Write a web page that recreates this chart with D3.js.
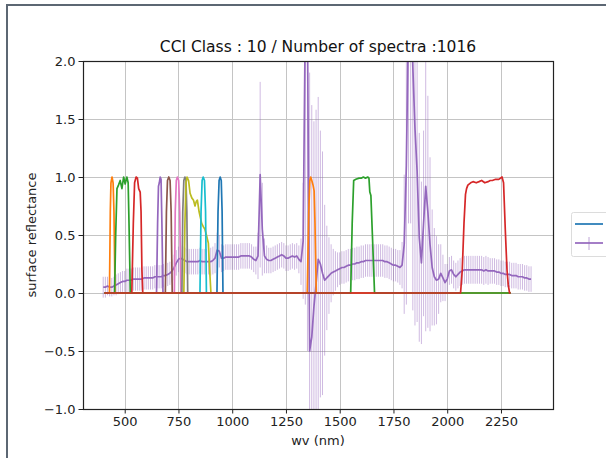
<!DOCTYPE html>
<html>
<head>
<meta charset="utf-8">
<script src="https://cdn.jsdelivr.net/npm/d3@7"></script>
<style>
	body { margin: 0; background: #fff; }
	svg { display: block; font-family: 'DejaVu Sans', sans-serif; }
</style>
</head>
<body>
<svg width="606" height="458"></svg>
<script>
const title = 'CCI Class : 10 / Number of spectra :1016';
const xLabel = 'wv (nm)';
const yLabel = 'surface reflectance';
const xTicks = [500, 750, 1000, 1250, 1500, 1750, 2000, 2250];
const yTicks = [-1.0, -0.5, 0.0, 0.5, 1.0, 1.5, 2.0];

//mean spectrum of the class, one value every 10 nm (rows of 100 nm)
const wavelengths = [
	400, 410, 420, 430, 440, 450, 460, 470, 480, 490,
	500, 510, 520, 530, 540, 550, 560, 570, 580, 590,
	600, 610, 620, 630, 640, 650, 660, 670, 680, 690,
	700, 710, 720, 730, 740, 750, 760, 770, 780, 790,
	800, 810, 820, 830, 840, 850, 860, 870, 880, 890,
	900, 910, 920, 930, 940, 950, 960, 970, 980, 990,
	1000, 1010, 1020, 1030, 1040, 1050, 1060, 1070, 1080, 1090,
	1100, 1110, 1120, 1130, 1140, 1150, 1160, 1170, 1180, 1190,
	1200, 1210, 1220, 1230, 1240, 1250, 1260, 1270, 1280, 1290,
	1300, 1310, 1320, 1330, 1340, 1350, 1360, 1370, 1380, 1390,
	1400, 1410, 1420, 1430, 1440, 1450, 1460, 1470, 1480, 1490,
	1500, 1510, 1520, 1530, 1540, 1550, 1560, 1570, 1580, 1590,
	1600, 1610, 1620, 1630, 1640, 1650, 1660, 1670, 1680, 1690,
	1700, 1710, 1720, 1730, 1740, 1750, 1760, 1770, 1780, 1790,
	1800, 1810, 1820, 1830, 1840, 1850, 1860, 1870, 1880, 1890,
	1900, 1910, 1920, 1930, 1940, 1950, 1960, 1970, 1980, 1990,
	2000, 2010, 2020, 2030, 2040, 2050, 2060, 2070, 2080, 2090,
	2100, 2110, 2120, 2130, 2140, 2150, 2160, 2170, 2180, 2190,
	2200, 2210, 2220, 2230, 2240, 2250, 2260, 2270, 2280, 2290,
	2300, 2310, 2320, 2330, 2340, 2350, 2360, 2370, 2380, 2390
];

const meanRefl = [
	0.05, 0.05, 0.06, 0.05, 0.05, 0.06, 0.07, 0.08, 0.09, 0.10,
	0.10, 0.11, 0.11, 0.11, 0.12, 0.12, 0.12, 0.12, 0.12, 0.13,
	0.13, 0.13, 0.13, 0.13, 0.14, 0.14, 0.14, 0.14, 0.15, 0.15,
	0.16, 0.17, 0.19, 0.22, 0.26, 0.29, 0.30, 0.29, 0.28, 0.27,
	0.27, 0.27, 0.27, 0.27, 0.27, 0.28, 0.27, 0.27, 0.27, 0.27,
	0.27, 0.28, 0.30, 0.37, 0.36, 0.30, 0.30, 0.31, 0.31, 0.31,
	0.31, 0.31, 0.31, 0.31, 0.32, 0.32, 0.32, 0.32, 0.32, 0.31,
	0.29, 0.28, 0.32, 1.02, 0.55, 0.32, 0.29, 0.28, 0.28, 0.29,
	0.30, 0.31, 0.32, 0.33, 0.32, 0.30, 0.30, 0.31, 0.32, 0.31,
	0.32, 0.29, 0.27, 0.45, 2.40, 2.30, -0.50, -0.38, -0.12, 0.08,
	0.29, 0.25, 0.17, 0.11, 0.13, 0.15, 0.17, 0.18, 0.19, 0.20,
	0.21, 0.22, 0.22, 0.23, 0.24, 0.24, 0.25, 0.25, 0.26, 0.26,
	0.27, 0.27, 0.28, 0.28, 0.28, 0.28, 0.28, 0.28, 0.28, 0.28,
	0.28, 0.27, 0.27, 0.26, 0.25, 0.24, 0.24, 0.23, 0.22, 0.24,
	0.42, 1.10, 2.40, 2.80, 1.95, 1.42, 1.05, 0.48, 0.26, 0.60,
	0.92, 0.70, 0.42, 0.22, 0.14, 0.11, 0.12, 0.17, 0.13, 0.09,
	0.12, 0.19, 0.20, 0.16, 0.14, 0.16, 0.18, 0.19, 0.20, 0.20,
	0.20, 0.20, 0.20, 0.20, 0.20, 0.20, 0.20, 0.19, 0.20, 0.19,
	0.19, 0.19, 0.19, 0.18, 0.18, 0.17, 0.17, 0.16, 0.16, 0.16,
	0.15, 0.15, 0.15, 0.14, 0.14, 0.14, 0.13, 0.13, 0.12, 0.12
];

//standard deviation, used as error bar
const stdRefl = [
	0.09, 0.09, 0.08, 0.08, 0.08, 0.08, 0.09, 0.09, 0.09, 0.09,
	0.09, 0.10, 0.10, 0.10, 0.10, 0.10, 0.10, 0.10, 0.10, 0.10,
	0.10, 0.10, 0.10, 0.10, 0.10, 0.10, 0.10, 0.10, 0.10, 0.10,
	0.10, 0.10, 0.10, 0.11, 0.11, 0.11, 0.11, 0.11, 0.11, 0.11,
	0.11, 0.11, 0.11, 0.11, 0.11, 0.11, 0.11, 0.11, 0.11, 0.11,
	0.12, 0.12, 0.13, 0.15, 0.14, 0.12, 0.11, 0.11, 0.11, 0.11,
	0.11, 0.11, 0.11, 0.11, 0.11, 0.11, 0.11, 0.11, 0.11, 0.11,
	0.11, 0.12, 0.20, 0.80, 0.40, 0.15, 0.12, 0.11, 0.11, 0.11,
	0.11, 0.11, 0.11, 0.11, 0.11, 0.11, 0.11, 0.11, 0.11, 0.11,
	0.11, 0.12, 0.20, 0.50, 2.50, 2.80, 2.40, 2.00, 1.60, 1.50,
	1.40, 1.15, 1.05, 0.65, 0.45, 0.33, 0.25, 0.20, 0.17, 0.15,
	0.14, 0.14, 0.14, 0.14, 0.14, 0.14, 0.14, 0.14, 0.14, 0.14,
	0.14, 0.14, 0.14, 0.14, 0.14, 0.14, 0.14, 0.14, 0.14, 0.14,
	0.14, 0.14, 0.14, 0.14, 0.14, 0.14, 0.14, 0.14, 0.15, 0.20,
	0.60, 1.20, 1.80, 2.20, 2.10, 1.70, 1.30, 0.90, 0.70, 0.80,
	1.25, 1.00, 0.75, 0.50, 0.42, 0.38, 0.30, 0.25, 0.20, 0.16,
	0.13, 0.12, 0.12, 0.12, 0.12, 0.12, 0.12, 0.12, 0.12, 0.12,
	0.12, 0.12, 0.12, 0.12, 0.12, 0.12, 0.12, 0.12, 0.12, 0.12,
	0.11, 0.11, 0.11, 0.11, 0.11, 0.11, 0.11, 0.11, 0.11, 0.11,
	0.11, 0.11, 0.11, 0.11, 0.11, 0.11, 0.11, 0.11, 0.11, 0.11
];

//band responses as [wv, value], zero everywhere else in srfRange
const srfRange = [405, 2295];
const srfB01 = [[429, 0], [433, 0.7], [436, 0.95], [441, 1.0], [446, 0.95], [450, 0.7], [455, 0]];
const srfB02 = [[453, 0], [458, 0.5], [464, 0.9], [471, 0.93], [479, 0.97], [487, 0.9], [495, 1.0], [502, 0.94], [510, 1.0], [516, 0.95], [520, 0.6], [526, 0]];
const srfB03 = [[533, 0], [540, 0.6], [546, 0.95], [553, 1.0], [559, 0.99], [565, 0.9], [572, 0.87], [576, 0.7], [580, 0.2], [584, 0]];
const srfB04 = [[648, 0], [653, 0.6], [657, 0.92], [661, 0.95], [665, 1.0], [669, 0.98], [673, 0.6], [678, 0]];
const srfB05 = [[689, 0], [694, 0.7], [699, 0.97], [705, 1.0], [711, 0.97], [716, 0.7], [721, 0]];
const srfB06 = [[731, 0], [735, 0.7], [740, 0.97], [745, 1.0], [751, 0.97], [756, 0.7], [761, 0]];
const srfB07 = [[766, 0], [770, 0.7], [775, 0.97], [780, 1.0], [785, 0.97], [789, 0.7], [793, 0]];
const srfB08 = [[775, 0], [780, 0.6], [785, 0.95], [790, 1.0], [797, 0.97], [804, 0.86], [812, 0.82], [820, 0.8], [827, 0.75], [833, 0.79], [838, 0.8], [846, 0.7], [852, 0.65], [858, 0.6], [866, 0.57], [873, 0.55], [880, 0.5], [889, 0.43], [895, 0.2], [901, 0]];
const srfB8A = [[850, 0], [855, 0.7], [860, 0.97], [865, 1.0], [871, 0.97], [876, 0.7], [880, 0]];
const srfB09 = [[929, 0], [934, 0.7], [939, 0.97], [944, 1.0], [949, 0.97], [953, 0.7], [957, 0]];
const srfB10 = [[1349, 0], [1356, 0.7], [1361, 0.97], [1365, 1.0], [1370, 0.97], [1376, 0.93], [1381, 0.88], [1385, 0.6], [1391, 0]];
const srfB11 = [[1551, 0], [1558, 0.6], [1565, 0.97], [1575, 0.98], [1590, 0.99], [1600, 0.99], [1610, 1.0], [1620, 0.99], [1630, 1.0], [1636, 0.99], [1640, 0.87], [1645, 0.84], [1652, 0.5], [1662, 0]];
const srfB12 = [[2062, 0], [2070, 0.2], [2078, 0.6], [2085, 0.85], [2090, 0.9], [2096, 0.93], [2109, 0.95], [2120, 0.96], [2135, 0.95], [2148, 0.96], [2160, 0.97], [2175, 0.95], [2190, 0.96], [2200, 0.97], [2210, 0.97], [2225, 0.98], [2240, 0.98], [2255, 1.0], [2262, 0.95], [2270, 0.55], [2278, 0.2], [2284, 0.07], [2290, 0]];

const srfBands = [srfB01, srfB02, srfB03, srfB04, srfB05, srfB06, srfB07, srfB08, srfB8A, srfB09, srfB10, srfB11, srfB12];
//matplotlib colour cycle, first colour went to the (hidden) first line
const srfColors = ['#ff7f0e', '#2ca02c', '#d62728', '#9467bd', '#8c564b', '#e377c2', '#7f7f7f', '#bcbd22', '#17becf', '#1f77b4', '#ff7f0e', '#2ca02c', '#d62728'];
const meanColor = '#9467bd';

const svg = d3.select('svg');

const render = () => {
	const plot = { left: 83, right: 553, top: 61, bottom: 409 };

	const xScale = d3.scaleLinear()
		.domain([306, 2492])
		.range([plot.left, plot.right]);

	const yScale = d3.scaleLinear()
		.domain([-1, 2])
		.range([plot.bottom, plot.top]);

	//grey frame of the screenshot
	svg.append('path')
		.attr('d', 'M7,458 V5 H606')
		.attr('fill', 'none')
		.attr('stroke', '#5c6773')
		.attr('stroke-width', 2);

	svg.append('clipPath').attr('id', 'clip')
		.append('rect')
			.attr('x', plot.left)
			.attr('y', plot.top)
			.attr('width', plot.right - plot.left)
			.attr('height', plot.bottom - plot.top);

	//grid
	const grid = svg.append('g').attr('stroke', '#c4c4c4').attr('stroke-width', 1);
	grid.selectAll('.gx').data(xTicks).enter().append('line')
		.attr('x1', d => Math.round(xScale(d)) + 0.5)
		.attr('x2', d => Math.round(xScale(d)) + 0.5)
		.attr('y1', plot.top)
		.attr('y2', plot.bottom);
	grid.selectAll('.gy').data(yTicks).enter().append('line')
		.attr('x1', plot.left)
		.attr('x2', plot.right)
		.attr('y1', d => Math.round(yScale(d)) + 0.5)
		.attr('y2', d => Math.round(yScale(d)) + 0.5);

	const g = svg.append('g').attr('clip-path', 'url(#clip)');

	//error bars
	g.selectAll('.err').data(wavelengths).enter().append('line')
		.attr('x1', d => xScale(d))
		.attr('x2', d => xScale(d))
		.attr('y1', (d, i) => yScale(meanRefl[i] - stdRefl[i]))
		.attr('y2', (d, i) => yScale(meanRefl[i] + stdRefl[i]))
		.attr('stroke', meanColor)
		.attr('stroke-opacity', 0.45)
		.attr('stroke-width', 1);

	//mean line
	const meanLine = d3.line()
		.x(d => xScale(d))
		.y((d, i) => yScale(meanRefl[i]));
	g.append('path')
		.attr('d', meanLine(wavelengths))
		.attr('fill', 'none')
		.attr('stroke', meanColor)
		.attr('stroke-width', 1.7)
		.attr('stroke-linejoin', 'round');

	//band responses
	const srfLine = d3.line()
		.x(d => xScale(d[0]))
		.y(d => yScale(d[1]));
	srfBands.forEach((band, i) => {
		const pts = [[srfRange[0], 0], ...band, [srfRange[1], 0]];
		g.append('path')
			.attr('d', srfLine(pts))
			.attr('fill', 'none')
			.attr('stroke', srfColors[i])
			.attr('stroke-width', 1.7)
			.attr('stroke-linejoin', 'round');
	});

	//axes
	const xAxis = svg.append('g')
		.attr('transform', `translate(0, ${plot.bottom})`)
		.call(d3.axisBottom(xScale).tickValues(xTicks).tickFormat(d3.format('d')).tickSize(4.5).tickSizeOuter(0).tickPadding(3));
	const yAxis = svg.append('g')
		.attr('transform', `translate(${plot.left}, 0)`)
		.call(d3.axisLeft(yScale).tickValues(yTicks).tickFormat(d3.format('.1f')).tickSize(4.5).tickSizeOuter(0).tickPadding(3));
	[xAxis, yAxis].forEach(ax => {
		ax.select('.domain').remove();
		ax.selectAll('text')
			.attr('font-size', 13)
			.attr('font-family', 'DejaVu Sans, sans-serif')
			.attr('fill', '#222');
		ax.selectAll('.tick line').attr('stroke', '#222');
	});

	//spines
	svg.append('rect')
		.attr('x', plot.left + 0.5)
		.attr('y', plot.top + 0.5)
		.attr('width', plot.right - plot.left)
		.attr('height', plot.bottom - plot.top)
		.attr('fill', 'none')
		.attr('stroke', '#222')
		.attr('stroke-width', 1.2);

	svg.append('text')
		.attr('x', (plot.left + plot.right) / 2)
		.attr('y', 52)
		.attr('text-anchor', 'middle')
		.attr('font-size', 15.5)
		.attr('fill', '#111')
		.text(title);

	svg.append('text')
		.attr('x', (plot.left + plot.right) / 2)
		.attr('y', 445)
		.attr('text-anchor', 'middle')
		.attr('font-size', 13)
		.attr('fill', '#222')
		.text(xLabel);

	svg.append('text')
		.attr('transform', `translate(36, ${(plot.top + plot.bottom) / 2}) rotate(-90)`)
		.attr('text-anchor', 'middle')
		.attr('font-size', 13)
		.attr('fill', '#222')
		.text(yLabel);

	//legend, cut off by the right edge
	const legend = svg.append('g');
	legend.append('rect')
		.attr('x', 571.5)
		.attr('y', 212.5)
		.attr('width', 60)
		.attr('height', 44)
		.attr('rx', 2)
		.attr('fill', '#fff')
		.attr('stroke', '#dcdcdc');
	legend.append('line')
		.attr('x1', 575).attr('x2', 603)
		.attr('y1', 224).attr('y2', 224)
		.attr('stroke', '#1f77b4').attr('stroke-width', 1.7);
	legend.append('line')
		.attr('x1', 575).attr('x2', 603)
		.attr('y1', 243).attr('y2', 243)
		.attr('stroke', meanColor).attr('stroke-width', 1.7);
	legend.append('line')
		.attr('x1', 589).attr('x2', 589)
		.attr('y1', 237).attr('y2', 250)
		.attr('stroke', meanColor).attr('stroke-opacity', 0.6).attr('stroke-width', 1);
};

render();
</script>
</body>
</html>
